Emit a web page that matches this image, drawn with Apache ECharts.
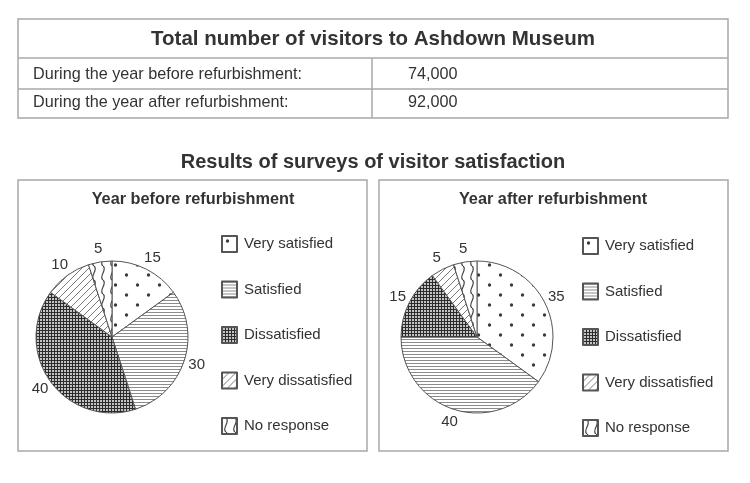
<!DOCTYPE html>
<html>
<head>
<meta charset="utf-8">
<script src="https://cdn.jsdelivr.net/npm/echarts@6/dist/echarts.min.js"></script>
<style>
  html, body { margin: 0; padding: 0; background: #fff; }
  #main { width: 750px; height: 483px; }
</style>
</head>
<body>
<div id="main"></div>
<script>
// table data
var tableTitle = 'Total number of visitors to Ashdown Museum';
var periods = ['During the year before refurbishment:', 'During the year after refurbishment:'];
var visitorTotals = [74000, 92000];

// survey data
var surveyTitle = 'Results of surveys of visitor satisfaction';
var panelTitles = ['Year before refurbishment', 'Year after refurbishment'];
var categories = ['Very satisfied', 'Satisfied', 'Dissatisfied', 'Very dissatisfied', 'No response'];
var beforeValues = [15, 30, 40, 10, 5];
var afterValues = [35, 40, 15, 5, 5];

var FONT = '"Liberation Sans", Arial, sans-serif';
var INK = '#333';

// small canvas tiles used as fill patterns
function tile(w, h, draw) {
  var c = document.createElement('canvas');
  c.width = w; c.height = h;
  var g = c.getContext('2d');
  g.fillStyle = '#fff';
  g.fillRect(0, 0, w, h);
  draw(g);
  return { image: c, repeat: 'repeat' };
}
var patterns = [
  // dots
  tile(22, 20, function(g){
    g.fillStyle = '#3c3c3c';
    g.beginPath(); g.arc(5.5, 5, 1.7, 0, Math.PI * 2); g.fill();
    g.beginPath(); g.arc(16.5, 15, 1.7, 0, Math.PI * 2); g.fill();
  }),
  // horizontal lines
  tile(4, 3, function(g){
    g.fillStyle = '#8c8c8c';
    g.fillRect(0, 0, 4, 1);
  }),
  // dark grid
  tile(3, 3, function(g){
    g.fillStyle = '#2c2c2c';
    g.fillRect(0, 0, 3, 3);
    g.fillStyle = '#c4c4c4';
    g.fillRect(1, 1, 2, 2);
  }),
  // diagonal lines
  tile(7, 7, function(g){
    g.strokeStyle = '#7a7a7a';
    g.lineWidth = 1;
    g.beginPath();
    g.moveTo(0, 7); g.lineTo(7, 0);
    g.moveTo(-1, 1); g.lineTo(1, -1);
    g.moveTo(6, 8); g.lineTo(8, 6);
    g.stroke();
  }),
  // wavy lines
  tile(9, 14, function(g){
    g.strokeStyle = '#444';
    g.lineWidth = 1.2;
    g.beginPath();
    g.moveTo(4, 0);
    g.bezierCurveTo(9, 3.5, -1, 10.5, 4, 14);
    g.stroke();
  })
];

function pieData(values) {
  return values.map(function(v, i){
    return { name: categories[i], value: v, itemStyle: { color: patterns[i] } };
  });
}

function pieSeries(values, cx) {
  return {
    type: 'pie',
    center: [cx, 337],
    radius: 76,
    startAngle: 90,
    clockwise: true,
    avoidLabelOverlap: false,
    silent: true,
    itemStyle: { borderColor: '#555', borderWidth: 1 },
    label: {
      show: true,
      position: 'outside',
      distanceToLabelLine: 0,
      color: INK,
      fontFamily: FONT,
      fontSize: 15,
      formatter: '{c}'
    },
    labelLine: { show: false, length: 13, length2: 0 },
    labelLayout: function(){ return { align: 'center', verticalAlign: 'middle' }; },
    emphasis: { disabled: true },
    data: pieData(values)
  };
}

function line(x1, y1, x2, y2) {
  return { type: 'line', shape: { x1: x1, y1: y1, x2: x2, y2: y2 }, style: { stroke: '#a8a8a8', lineWidth: 1.5 }, silent: true };
}
function box(x, y, w, h) {
  return { type: 'rect', shape: { x: x, y: y, width: w, height: h }, style: { fill: 'none', stroke: '#a8a8a8', lineWidth: 1.5 }, silent: true };
}
function text(str, x, y, size, weight, align) {
  return {
    type: 'text', x: x, y: y, silent: true,
    style: {
      text: str, fill: INK, fontFamily: FONT, fontSize: size, fontWeight: weight,
      align: align, verticalAlign: 'middle', textAlign: align, textVerticalAlign: 'middle'
    }
  };
}

var graphics = [
  box(18, 19, 710, 99),
  line(18, 58, 728, 58),
  line(18, 89, 728, 89),
  line(372, 58, 372, 118),
  text(tableTitle, 373, 39, 20.5, 'bold', 'center'),
  box(18, 180, 349, 271),
  box(379, 180, 349, 271),
  text(surveyTitle, 373, 162, 20, 'bold', 'center'),
  text(panelTitles[0], 193, 200, 16.3, 'bold', 'center'),
  text(panelTitles[1], 553, 200, 16.3, 'bold', 'center')
];
var rowY = [75, 103];
periods.forEach(function(p, i){
  graphics.push(text(p, 33, rowY[i], 16.2, 'normal', 'left'));
  graphics.push(text(visitorTotals[i].toLocaleString('en-US'), 408, rowY[i], 16.2, 'normal', 'left'));
});

function legend(left, top) {
  return {
    data: categories,
    orient: 'vertical',
    left: left,
    top: top,
    padding: 0,
    icon: 'rect',
    itemWidth: 15,
    itemHeight: 16,
    itemGap: 27.5,
    selectedMode: false,
    textStyle: { color: INK, fontFamily: FONT, fontSize: 15, lineHeight: 16, padding: [0, 0, 0, 2] }
  };
}

var chart = echarts.init(document.getElementById('main'), null, { renderer: 'canvas' });
chart.setOption({
  backgroundColor: '#fff',
  animation: false,
  legend: [legend(221, 235), legend(582, 237)],
  series: [pieSeries(beforeValues, 112), pieSeries(afterValues, 477)],
  graphic: { elements: graphics }
});
</script>
</body>
</html>
